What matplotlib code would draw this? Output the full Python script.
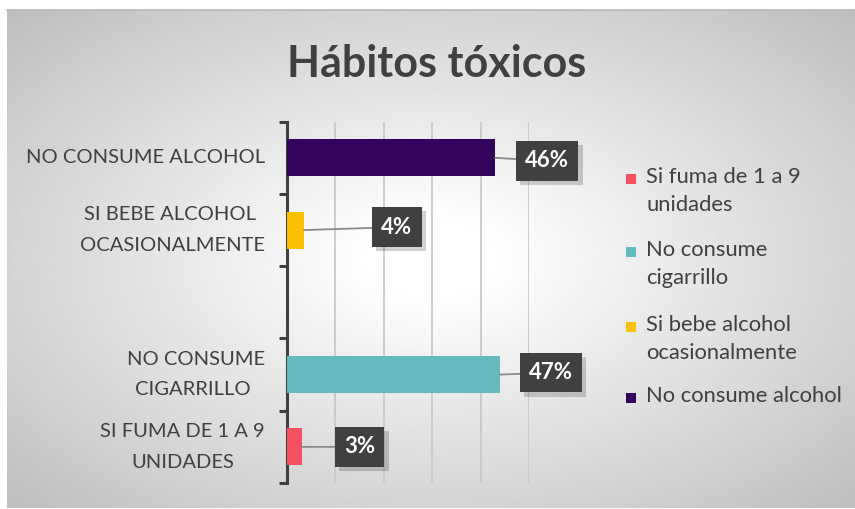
import numpy as np
import matplotlib
matplotlib.use('Agg')
import matplotlib.pyplot as plt
import matplotlib.patheffects as pe
from matplotlib.patches import Rectangle

# --- datos ---
categorias = ['SI FUMA DE 1 A 9\nUNIDADES', 'NO CONSUME\nCIGARRILLO ', '',
              'SI BEBE ALCOHOL \nOCASIONALMENTE', 'NO CONSUME ALCOHOL']
conteos = [6, 88, None, 7, 86]          # None = hueco sin barra
etiquetas = ['3%', '47%', '', '4%', '46%']
series = ['Si fuma de 1 a 9\nunidades', 'No consume\ncigarrillo',
          'Si bebe alcohol\nocasionalmente', 'No consume alcohol']
colores = ['#F4505F', '#65BABD', '#F9C102', '#33045E']
titulo = 'Hábitos tóxicos'

# desplazamiento (px) de cada etiqueta respecto al final de la barra
desp = [(58, 0), (51, 2), None, (93, 3), (52, -3)]

W, H = 855, 509
GRIS = '#404040'
plt.rcParams['font.family'] = ['Lato', 'DejaVu Sans']

def fx(px): return px / W
def fy(py): return 1 - py / H

fig = plt.figure(figsize=(W / 100, H / 100), dpi=100)
fig.patch.set_facecolor('white')

# fondo con degradado radial
bg = fig.add_axes([fx(7), fy(508), (W - 7) / W, (508 - 10) / H])
gx, gy = np.meshgrid(np.linspace(-1, 1, 400), np.linspace(-1, 1, 240))
r = np.sqrt(gx ** 2 + gy ** 2)
grad = 1 - 0.2 * np.clip(r - 0.15, 0, None)
bg.imshow(grad, cmap='gray', vmin=0, vmax=1, aspect='auto', extent=[0, 1, 0, 1])
bg.set_xlim(0, 1); bg.set_ylim(0, 1)
bg.axis('off')
bg.plot([0, 1], [1, 1], color='#b8b8b8', lw=1.2, clip_on=False)

ax = fig.add_axes([fx(287), fy(483), (529 - 287) / W, (483 - 121.7) / H])
ax.set_facecolor('none')

ypos = np.arange(len(categorias))
k = 0
for i, v in enumerate(conteos):
    if v is None:
        continue
    ax.barh(ypos[i], v, height=0.51, color=colores[k], zorder=3)
    dx, dy = desp[i]
    an = ax.annotate(etiquetas[i], xy=(v, ypos[i]), xytext=(dx, dy),
                     textcoords='offset pixels', ha='center', va='center',
                     fontsize=16, fontweight='bold', color='white',
                     bbox=dict(boxstyle='square,pad=0.42', fc=GRIS, ec='none'),
                     arrowprops=dict(arrowstyle='-', color='#8a8a8a', lw=1.3,
                                     shrinkA=0, shrinkB=0),
                     annotation_clip=False, zorder=5)
    an.get_bbox_patch().set_path_effects([
        pe.SimplePatchShadow(offset=(3, -3), shadow_rgbFace='black', alpha=0.18),
        pe.Normal()])
    k += 1

ax.set_xlim(0, 100)
ax.set_ylim(-0.5, len(categorias) - 0.5)
ax.set_xticks([0, 20, 40, 60, 80, 100])
ax.set_xticklabels([])
ax.grid(axis='x', color='#c9c9c9', lw=1.3, zorder=0)
ax.tick_params(axis='x', length=0)

ax.set_yticks(ypos)
ax.set_yticklabels(categorias, fontsize=14.5, color=GRIS)
for lbl in ax.get_yticklabels():
    lbl.set_multialignment('center')
    lbl.set_linespacing(1.95)
    lbl.set_verticalalignment('center')
ax.tick_params(axis='y', which='major', length=0, pad=16)
ax.set_yticks(np.arange(-0.5, len(categorias), 1), minor=True)
ax.tick_params(axis='y', which='minor', length=6, width=2.2, color=GRIS, direction='out')

for s in ['top', 'right', 'bottom']:
    ax.spines[s].set_visible(False)
ax.spines['left'].set_color(GRIS)
ax.spines['left'].set_linewidth(2.2)

# título
fig.text(fx(437), fy(77), titulo, ha='center', va='baseline',
         fontsize=31, fontweight='bold', color=GRIS)

# leyenda manual
ley_y = [179, 252, 327, 398]
for nombre, col, yy in zip(series, colores, ley_y):
    fig.patches.append(Rectangle((fx(626), fy(yy + 5)), 10 / W, 10 / H,
                                 transform=fig.transFigure, fc=col, ec='none'))
    fig.text(fx(646), fy(yy - 12), nombre, ha='left', va='top', fontsize=15.8, color=GRIS,
             linespacing=1.5, transform=fig.transFigure)

plt.savefig('out.png', dpi=100)
